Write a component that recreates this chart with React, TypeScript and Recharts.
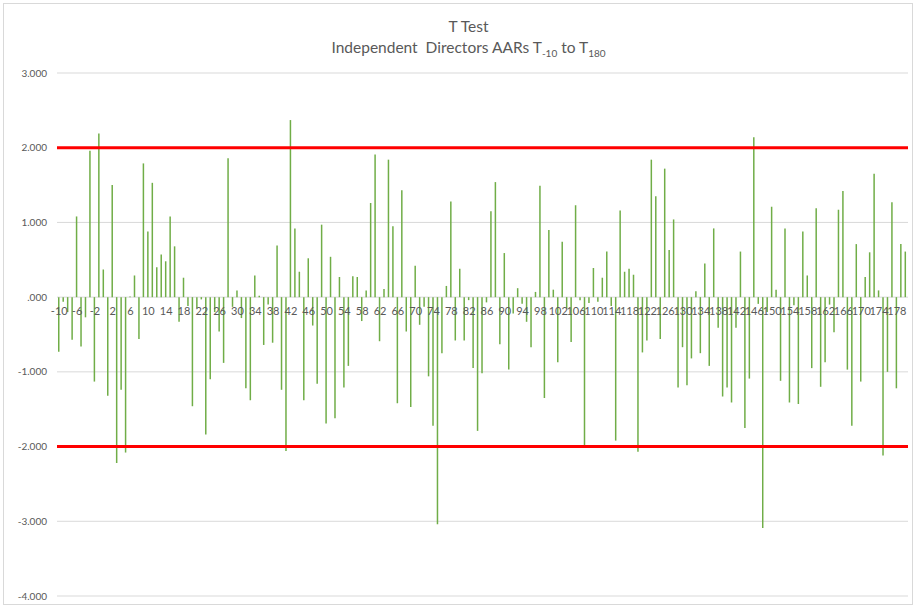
import { BarChart, Bar, XAxis, YAxis, CartesianGrid, ReferenceLine } from 'recharts';

// AAR t-statistics, day -10 .. day 180
const tValues: number[] = [
  -0.73, -0.06, -0.2, -0.57, 1.08, -0.66, -0.27, 1.96, -1.13, 2.19,
  0.37, -1.32, 1.5, -2.22, -1.24, -2.08, 0.01, 0.29, -0.56, 1.79,
  0.88, 1.53, 0.4, 0.57, 0.48, 1.08, 0.68, -0.33, 0.26, -0.12,
  -1.46, -0.15, -0.03, -1.84, -1.1, -0.2, -0.46, -0.88, 1.86, -0.13,
  0.09, -0.28, -1.22, -1.38, 0.29, 0.02, -0.64, -0.1, -0.61, 0.69,
  -1.24, -2.06, 2.37, 0.92, 0.34, -1.38, 0.52, -0.38, -1.16, 0.97,
  -1.69, 0.54, -1.62, 0.27, -1.21, -0.92, 0.28, 0.27, -0.32, 0.09,
  1.26, 1.91, -0.59, 0.11, 1.84, 0.95, -1.42, 1.43, -0.46, -1.47,
  0.42, -0.37, -0.13, -1.06, -1.72, -3.04, -0.75, 0.15, 1.28, -0.58,
  0.38, -0.58, -0.04, -0.95, -1.79, -1.02, -0.07, 1.15, 1.54, -0.63,
  0.59, -0.97, -0.22, 0.12, -0.09, -0.33, -0.67, 0.07, 1.49, -1.35,
  0.9, 0.1, -0.87, 0.74, -0.15, -0.6, 1.23, -0.04, -2.01, -0.08,
  0.39, -0.06, 0.26, 0.61, -0.12, -1.92, 1.16, 0.34, 0.38, 0.3,
  -2.07, -0.74, -0.58, 1.84, 1.35, -0.56, 1.72, 0.63, 1.04, -1.21,
  -0.67, -1.18, -0.82, 0.08, -0.75, 0.45, -0.92, 0.92, -0.41, -1.33,
  -1.21, -1.41, -0.41, 0.61, -1.75, -1.09, 2.14, -0.09, -3.09, -0.2,
  1.21, 0.1, -1.12, 0.92, -1.41, -0.11, -1.43, 0.88, 0.29, -0.95,
  1.19, -1.2, -0.87, -0.1, -0.47, 1.17, 1.42, -0.97, -1.72, 0.71,
  -1.13, 0.27, 0.6, 1.65, 0.09, -2.12, -1.0, 1.27, -1.22, 0.71,
  0.61,
];
const firstDay = -10;
const yTicks = [-4, -3, -2, -1, 0, 1, 2, 3];
const criticalValues = [2, -2];

const data = tValues.map((t, i) => ({ day: firstDay + i, t }));

const W = 915;
const H = 607;
const M = { top: 73, right: 7, bottom: 10, left: 0 };
const X_AXIS_H = 1;
const plotH = H - M.top - M.bottom - X_AXIS_H;
const zeroY = M.top + (plotH * 3) / 7;

const FONT = "Lato, 'Open Sans', sans-serif";
const GREY = '#595959';

const fmtY = (v: number) => (v === 0 ? '.000' : v.toFixed(3));

// day labels sit under the zero line, like Excel's crossing axis
const DayTick = (props: any) => {
  const { x, payload } = props;
  return (
    <text x={x} y={zeroY + 18} textAnchor="middle" fill={GREY} fontSize={11} fontFamily={FONT}>
      {payload.value}
    </text>
  );
};

export default function App() {
  return (
    <div style={{ position: 'fixed', left: 0, top: 0, width: W, height: H, background: '#fff', fontFamily: FONT }}>
      <div style={{ position: 'absolute', left: 3, top: 3, width: W - 7, height: H - 7, border: '1px solid #d9d9d9' }} />
      <div style={{ position: 'absolute', left: 0, width: W, top: 16, textAlign: 'center', color: GREY, fontSize: 15.5, lineHeight: '21px' }}>
        <div style={{ paddingLeft: 22 }}>T Test</div>
        <div style={{ paddingLeft: 22 }}>
          Independent&nbsp; Directors AARs T<sub style={{ fontSize: 10 }}>-10</sub> to T<sub style={{ fontSize: 10 }}>180</sub>
        </div>
      </div>
      <div style={{ position: 'absolute', left: 0, top: 0 }}>
        <BarChart width={W} height={H} data={data} margin={M} barCategoryGap={0}>
          <CartesianGrid vertical={false} stroke="#d9d9d9" />
          <XAxis
            dataKey="day"
            height={X_AXIS_H}
            interval={3}
            axisLine={false}
            tickLine={false}
            tick={<DayTick />}
          />
          <YAxis
            width={57}
            domain={[-4, 3]}
            ticks={yTicks}
            tickFormatter={fmtY}
            axisLine={false}
            tickLine={false}
            tickSize={0}
            tickMargin={10}
            tick={{ fill: GREY, fontSize: 10, fontFamily: FONT }}
          />
          <Bar dataKey="t" fill="#70AD47" barSize={1.5} isAnimationActive={false} />
          {criticalValues.map((v) => (
            <ReferenceLine key={v} y={v} stroke="#FF0000" strokeWidth={3} />
          ))}
        </BarChart>
      </div>
    </div>
  );
}
